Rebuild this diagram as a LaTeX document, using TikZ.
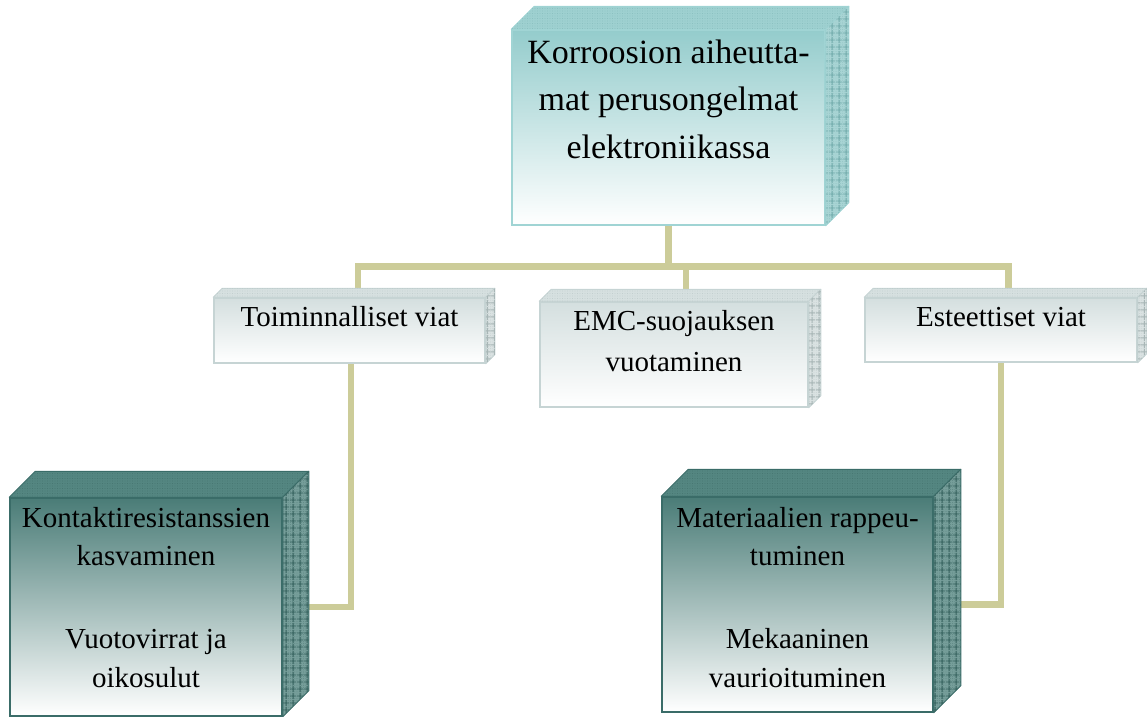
\documentclass[tikz,border=0pt]{standalone}
\usepackage{fontspec}
\setmainfont{Liberation Serif}
\usetikzlibrary{patterns.meta,backgrounds}
\definecolor{conncol}{RGB}{204,204,153}
\definecolor{aFront}{RGB}{148,204,204}
\definecolor{aBorder}{RGB}{160,212,212}
\definecolor{aTop}{RGB}{158,208,208}
\definecolor{aSide}{RGB}{168,212,212}
\definecolor{aPat}{RGB}{112,170,170}
\definecolor{bFront}{RGB}{212,223,223}
\definecolor{bBorder}{RGB}{198,212,212}
\definecolor{bTop}{RGB}{214,224,224}
\definecolor{bSide}{RGB}{218,226,226}
\definecolor{bPat}{RGB}{168,182,182}
\definecolor{cFront}{RGB}{74,124,119}
\definecolor{cBorder}{RGB}{58,108,104}
\definecolor{cTop}{RGB}{84,134,129}
\definecolor{cSide}{RGB}{118,158,154}
\definecolor{cPat}{RGB}{52,96,92}
\newcommand\mycuboid[6]{% node, depth, top, side, pattern, border
  \path[fill=#3, draw=#6, line width=1pt, line join=round,
        postaction={pattern={Dots[distance=2.5pt,radius=0.35pt]}, pattern color=#5!60!#3}]
    (#1.north west) -- ++(#2,-#2) -- ([shift={(#2,-#2)}]#1.north east) -- (#1.north east) -- cycle;
  \path[fill=#4, draw=#6, line width=1pt, line join=round,
        postaction={pattern={Dots[distance=2.2pt,radius=0.4pt]}, pattern color=#5!50!#4},
        postaction={pattern={Hatch[angle=0,distance=6.5pt,line width=1pt]}, pattern color=#5}]
    (#1.north east) -- ([shift={(#2,-#2)}]#1.north east) -- ([shift={(#2,-#2)}]#1.south east) -- (#1.south east) -- cycle;
}
\begin{document}
\begin{tikzpicture}[x=1pt,y=-1pt,
  conn/.style={draw=conncol, line width=6.5pt, line join=miter},
  frontA/.style={draw=aBorder, line width=1.5pt, top color=aFront, bottom color=white, inner sep=0pt},
  frontB/.style={draw=bBorder, line width=1.5pt, top color=bFront, bottom color=white, inner sep=0pt},
  frontC/.style={draw=cBorder, line width=1.5pt, top color=cFront, bottom color=white, inner sep=0pt},
  txtbig/.style={font=\fontsize{34}{40}\selectfont, anchor=base, inner sep=0pt},
  txt/.style={font=\fontsize{29}{35}\selectfont, anchor=base, inner sep=0pt}]
\useasboundingbox (0,0) rectangle (1147,716);

% front faces
\node[frontA, minimum width=313pt, minimum height=195pt] (top) at (668.5,127.5) {};
\node[frontB, minimum width=271pt, minimum height=65pt] (toim) at (349.5,330.5) {};
\node[frontB, minimum width=268pt, minimum height=105pt] (emc) at (674,354.5) {};
\node[frontB, minimum width=272pt, minimum height=64pt] (este) at (1001,330) {};
\node[frontC, minimum width=272pt, minimum height=218pt] (kont) at (146,607) {};
\node[frontC, minimum width=271pt, minimum height=215pt] (mat) at (797.5,604.5) {};

% depth faces
\mycuboid{top}{23}{aTop}{aSide}{aPat}{aBorder}
\mycuboid{toim}{9}{bTop}{bSide}{bPat}{bBorder}
\mycuboid{emc}{12}{bTop}{bSide}{bPat}{bBorder}
\mycuboid{este}{9}{bTop}{bSide}{bPat}{bBorder}
\mycuboid{kont}{26}{cTop}{cSide}{cPat}{cBorder}
\mycuboid{mat}{27}{cTop}{cSide}{cPat}{cBorder}

% connectors
\begin{scope}[on background layer]
  \coordinate (busL) at (358,266.5);
  \coordinate (busR) at (1008.5,266.5);
  \coordinate (busM) at (686,266.5);
  \coordinate (dropL) at (351,400);
  \coordinate (dropR) at (1001,400);
  \draw[conn] (top.south) -- (top.south |- busL);
  \draw[conn] (busL |- toim.north) |- (busR) -- (busR |- este.north);
  \draw[conn] (busM) -- (busM |- emc.north);
  \draw[conn] (dropL |- toim.south) |- (kont.east);
  \draw[conn] (dropR |- este.south) |- (mat.east);
\end{scope}

% texts
\node[txtbig] (ta) at (668.5,63) {Korroosion aiheutta-};
\node[txtbig] (tb) at (668.5,110.5) {mat perusongelmat};
\node[txtbig] (tc) at (668.5,158) {elektroniikassa};

\node[txt] (toimt) at (349.5,326.5) {Toiminnalliset viat};
\node[txt] (emca) at (674,330.5) {EMC-suojauksen};
\node[txt] (emcb) at (674,371.5) {vuotaminen};
\node[txt] (estet) at (1001,326.5) {Esteettiset viat};

\node[txt] (ka) at (146,527) {Kontaktiresistanssien};
\node[txt] (kb) at (146,565) {kasvaminen};
\node[txt] (kc) at (146,648) {Vuotovirrat ja};
\node[txt] (kd) at (146,687.5) {oikosulut};

\node[txt] (ma) at (797.5,527) {Materiaalien rappeu-};
\node[txt] (mb) at (797.5,565) {tuminen};
\node[txt] (mc) at (797.5,648) {Mekaaninen};
\node[txt] (md) at (797.5,687.5) {vaurioituminen};
\end{tikzpicture}
\end{document}
